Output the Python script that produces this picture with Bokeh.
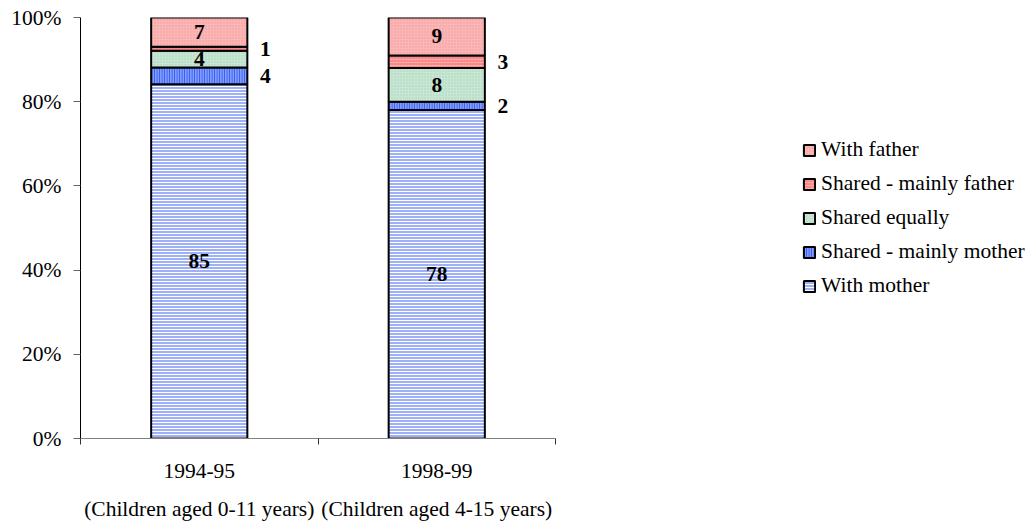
import numpy as np
from bokeh.plotting import figure
from bokeh.models import (Range1d, FixedTicker, LinearAxis, Legend, LegendItem,
                          PrintfTickFormatter, CustomJSTickFormatter, ColumnDataSource)
from bokeh.core.properties import value
from bokeh.embed import file_html
from bokeh.resources import INLINE

# ---------------- data ----------------
periods = ["1994-95", "1998-99"]
age_groups = ["(Children aged 0-11 years)", "(Children aged 4-15 years)"]
series_names = ["With mother", "Shared - mainly mother", "Shared equally",
                "Shared - mainly father", "With father"]
with_mother = [85, 78]
shared_mainly_mother = [4, 2]
shared_equally = [4, 8]
shared_mainly_father = [1, 3]
with_father = [7, 9]
y_ticks = [0, 20, 40, 60, 80, 100]

# ---------------- styles / layout ----------------
FONT = "Liberation Serif"
FS = "21.5px"
fills = ["#9db0f8", "#7f9cff", "#c8e6d4", "#f88a8a", "#fbb6b6"]
hatches = ["horizontal_line", "vertical_line", "dot", "horizontal_dash", "dot"]
hatch_colors = ["white", "#3152ee", "#a9d3ba", "#ffb0b0", "#f59a9a"]
hatch_scales = [3, 2.5, 3, 3, 3]
hatch_weights = [1, 1, 1, 1, 1]
label_outside = [False, True, False, True, False]
bar_width = 0.405
W, H = 1031, 523
LEFT = 80
AXIS_PX = 475          # pixel length of the category axis
FRAME_PX = W - LEFT    # frame spans to the right edge (legend lives inside it)

values = np.array([with_mother, shared_mainly_mother, shared_equally,
                   shared_mainly_father, with_father], dtype=float)
pct = values / values.sum(axis=0) * 100
tops = np.cumsum(pct, axis=0)
bottoms = tops - pct
xs = np.arange(len(periods)) + 0.5
n = len(periods)

p = figure(width=W, height=H, x_range=Range1d(0, n * FRAME_PX / AXIS_PX), y_range=Range1d(0, 100),
           output_backend="svg", toolbar_location=None,
           min_border_left=LEFT, min_border_right=0, min_border_top=17, min_border_bottom=84)
p.xgrid.visible = False
p.ygrid.visible = False
p.outline_line_color = None
p.xaxis.visible = False
p.yaxis.visible = False

# y axis
yax = LinearAxis(ticker=FixedTicker(ticks=y_ticks, minor_ticks=[]),
                 formatter=PrintfTickFormatter(format="%d%%"))
yax.axis_line_color = "black"
yax.major_tick_in = 0
yax.major_tick_out = 7
yax.major_tick_line_color = "#666666"
yax.minor_tick_line_color = None
yax.major_label_standoff = 12
yax.major_label_text_font = FONT
yax.major_label_text_font_size = FS
yax.major_label_text_color = "black"
p.add_layout(yax, "left")

# x axis (periods)
xax = LinearAxis(ticker=FixedTicker(ticks=list(xs), minor_ticks=list(range(n + 1))),
                 formatter=CustomJSTickFormatter(args=dict(labels=periods),
                                                 code="return labels[Math.floor(tick)] || ''"),
                 bounds=(0, n))
xax.axis_line_color = "#808080"
xax.major_tick_in = 0
xax.major_tick_out = 0
xax.major_tick_line_color = None
xax.minor_tick_in = 0
xax.minor_tick_out = 6
xax.minor_tick_line_color = "#333333"
xax.major_label_standoff = 19
xax.major_label_text_font = FONT
xax.major_label_text_font_size = FS
xax.major_label_text_color = "black"
p.add_layout(xax, "below")

# x axis second line (age groups)
xax2 = LinearAxis(ticker=FixedTicker(ticks=list(xs), minor_ticks=[]),
                  formatter=CustomJSTickFormatter(args=dict(labels=age_groups),
                                                  code="return labels[Math.floor(tick)] || ''"),
                  bounds=(0, n))
xax2.axis_line_color = None
xax2.major_tick_line_color = None
xax2.minor_tick_line_color = None
xax2.major_tick_in = 0
xax2.major_tick_out = 0
xax2.major_label_standoff = 16
xax2.major_label_text_font = FONT
xax2.major_label_text_font_size = FS
xax2.major_label_text_color = "black"
p.add_layout(xax2, "below")

renderers = []
for i, name in enumerate(series_names):
    src = ColumnDataSource(dict(x=xs, top=tops[i], bottom=bottoms[i]))
    r = p.vbar(x="x", top="top", bottom="bottom", width=bar_width, source=src,
               fill_color=fills[i], hatch_pattern=hatches[i], hatch_color=hatch_colors[i],
               hatch_scale=hatch_scales[i], hatch_weight=hatch_weights[i],
               line_color="black", line_width=2)
    renderers.append(r)

# value labels
for i, name in enumerate(series_names):
    mids = (tops[i] + bottoms[i]) / 2
    labels = [str(int(v)) for v in values[i]]
    if label_outside[i]:
        lx = xs + bar_width / 2
        xoff = 18
    else:
        lx = xs
        xoff = 0
    src = ColumnDataSource(dict(x=lx, y=mids, t=labels))
    p.text(x="x", y="y", text="t", source=src, x_offset=xoff,
           text_font=value(FONT), text_font_style="bold", text_font_size=FS,
           text_align="center", text_baseline="middle", text_color="black")

items = [LegendItem(label=series_names[i], renderers=[renderers[i]])
         for i in reversed(range(len(series_names)))]
legend = Legend(items=items, location=(722, 140), orientation="vertical",
                label_text_font=FONT, label_text_font_size=FS, label_text_color="black",
                label_height=20, glyph_width=14, glyph_height=14, label_standoff=5, spacing=9,
                padding=0, margin=0, border_line_color=None, background_fill_alpha=0)
p.add_layout(legend)

open("out.html", "w").write(file_html(p, INLINE))
